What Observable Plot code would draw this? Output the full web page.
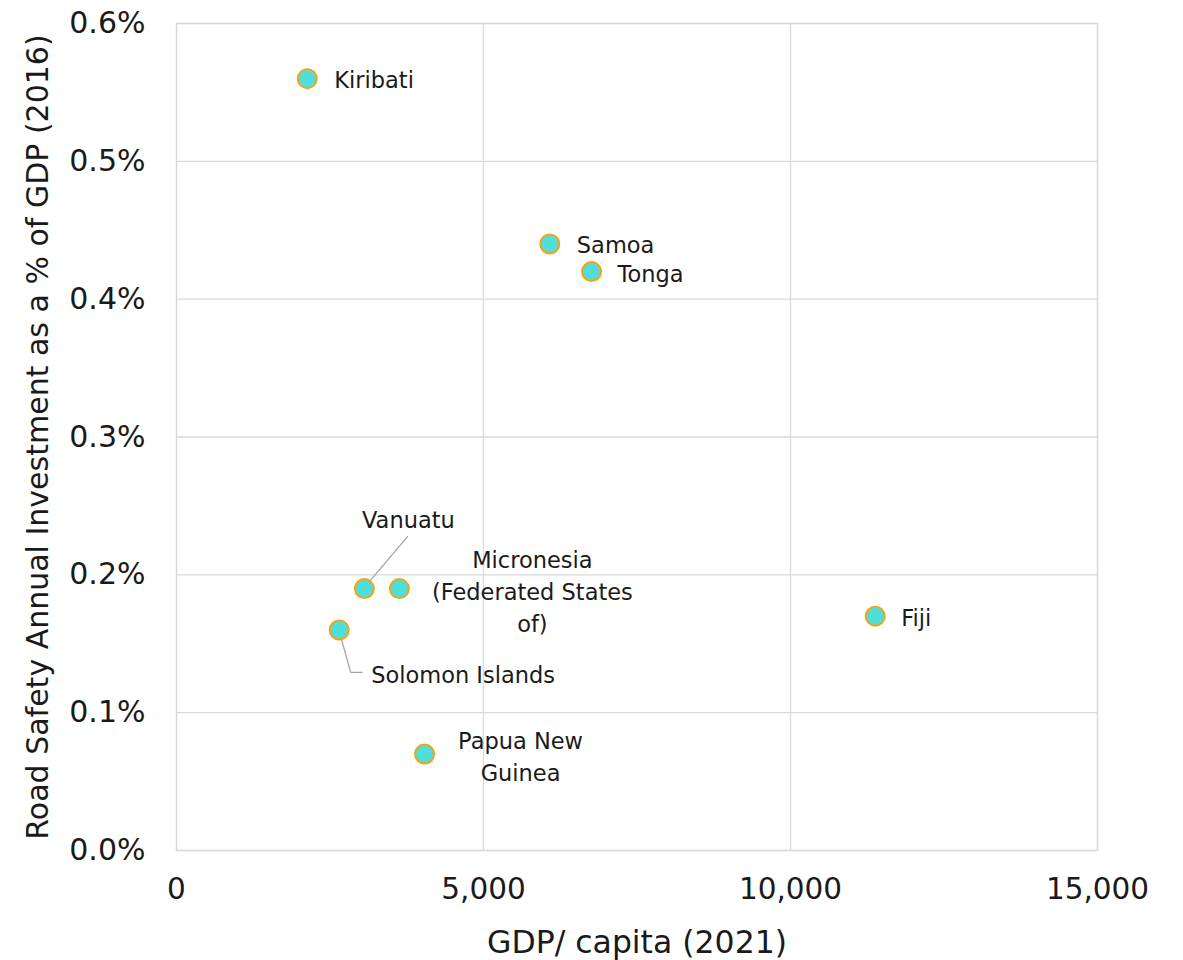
<!DOCTYPE html>
<html>
<head>
<meta charset="utf-8">
<script src="https://cdn.jsdelivr.net/npm/d3@7"></script>
<script src="https://cdn.jsdelivr.net/npm/@observablehq/plot@0.6"></script>
<style>
  html, body { margin: 0; padding: 0; background: #fff; }
  #chart svg { display: block; }
</style>
</head>
<body>
<div id="chart"></div>
<script>
const countries = ["Kiribati", "Samoa", "Tonga", "Vanuatu", "Micronesia\n(Federated States\nof)", "Solomon Islands", "Papua New\nGuinea", "Fiji"];
const gdpPerCapita = [2130, 6080, 6760, 3060, 3630, 2650, 4040, 11380];
const roadSafetyShare = [0.0056, 0.0044, 0.0042, 0.0019, 0.0019, 0.0016, 0.0007, 0.0017];
const xTicks = [0, 5000, 10000, 15000];
const yTicks = [0, 0.001, 0.002, 0.003, 0.004, 0.005, 0.006];
const xTitle = "GDP/ capita (2021)";
const yTitle = "Road Safety Annual Investment as a % of GDP (2016)";

// label placement (pixel offsets from the point), styling only
const labelDx = [27, 27, 26, 44, 133, 32, 96, 26];
const labelDy = [-1, -1, 0, -71, 1, 43, 1, 0];
const labelAnchor = ["start", "start", "start", "middle", "middle", "start", "middle", "start"];
const leaders = { "Vanuatu": [[0, 0], [44, -52]], "Solomon Islands": [[0, 0], [12, 43], [24, 43]] };

const data = countries.map((c, i) => ({
  name: c, gdp: gdpPerCapita[i], share: roadSafetyShare[i],
  dx: labelDx[i], dy: labelDy[i], anchor: labelAnchor[i]
}));

const font = "'DejaVu Sans', sans-serif";
const textColor = "#1a1a1a";

const labelMarks = data.map(d => Plot.text([d], {
  x: "gdp", y: "share", text: "name",
  dx: d.dx, dy: d.dy, textAnchor: d.anchor,
  fontSize: 22.5, fill: textColor, lineHeight: 1.42
}));

const leaderMark = (index, scales, values, dims) => {
  const g = d3.create("svg:g");
  for (const d of data) {
    const pts = leaders[d.name];
    if (!pts) continue;
    const x0 = scales.x(d.gdp), y0 = scales.y(d.share);
    g.append("path")
      .attr("d", d3.line()(pts.map(([dx, dy]) => [x0 + dx, y0 + dy])))
      .attr("fill", "none")
      .attr("stroke", "#a6a6a6")
      .attr("stroke-width", 1.3);
  }
  return g.node();
};

const chart = Plot.plot({
  width: 1183,
  height: 960,
  marginLeft: 176,
  marginRight: 86,
  marginTop: 23,
  marginBottom: 110,
  style: { fontFamily: font, color: textColor, background: "#fff" },
  x: { domain: [0, 15000] },
  y: { domain: [0, 0.006] },
  marks: [
    Plot.gridX(xTicks, { stroke: "#d9d9d9", strokeOpacity: 1, strokeWidth: 1.3 }),
    Plot.gridY(yTicks, { stroke: "#d9d9d9", strokeOpacity: 1, strokeWidth: 1.3 }),
    Plot.frame({ stroke: "#d9d9d9", strokeWidth: 1.3 }),
    Plot.axisX(xTicks, {
      tickSize: 0, tickPadding: 28, fontSize: 29.5, fill: textColor,
      tickFormat: d3.format(","), label: null
    }),
    Plot.axisY(yTicks, {
      tickSize: 0, tickPadding: 31, fontSize: 30, fill: textColor,
      tickFormat: d3.format(".1%"), label: null
    }),
    Plot.text([xTitle], { text: d => d, frameAnchor: "bottom", textAnchor: "middle", dy: 102, fontSize: 31.5, fill: textColor }),
    Plot.text([yTitle], { text: d => d, frameAnchor: "left", textAnchor: "middle", rotate: -90, dx: -138, fontSize: 30, fill: textColor }),
    leaderMark,
    Plot.dot(data, { x: "gdp", y: "share", r: 9.5, fill: "#50dfd8", stroke: "#f5a21b", strokeWidth: 2 }),
    ...labelMarks
  ]
});

document.getElementById("chart").appendChild(chart);
</script>
</body>
</html>
